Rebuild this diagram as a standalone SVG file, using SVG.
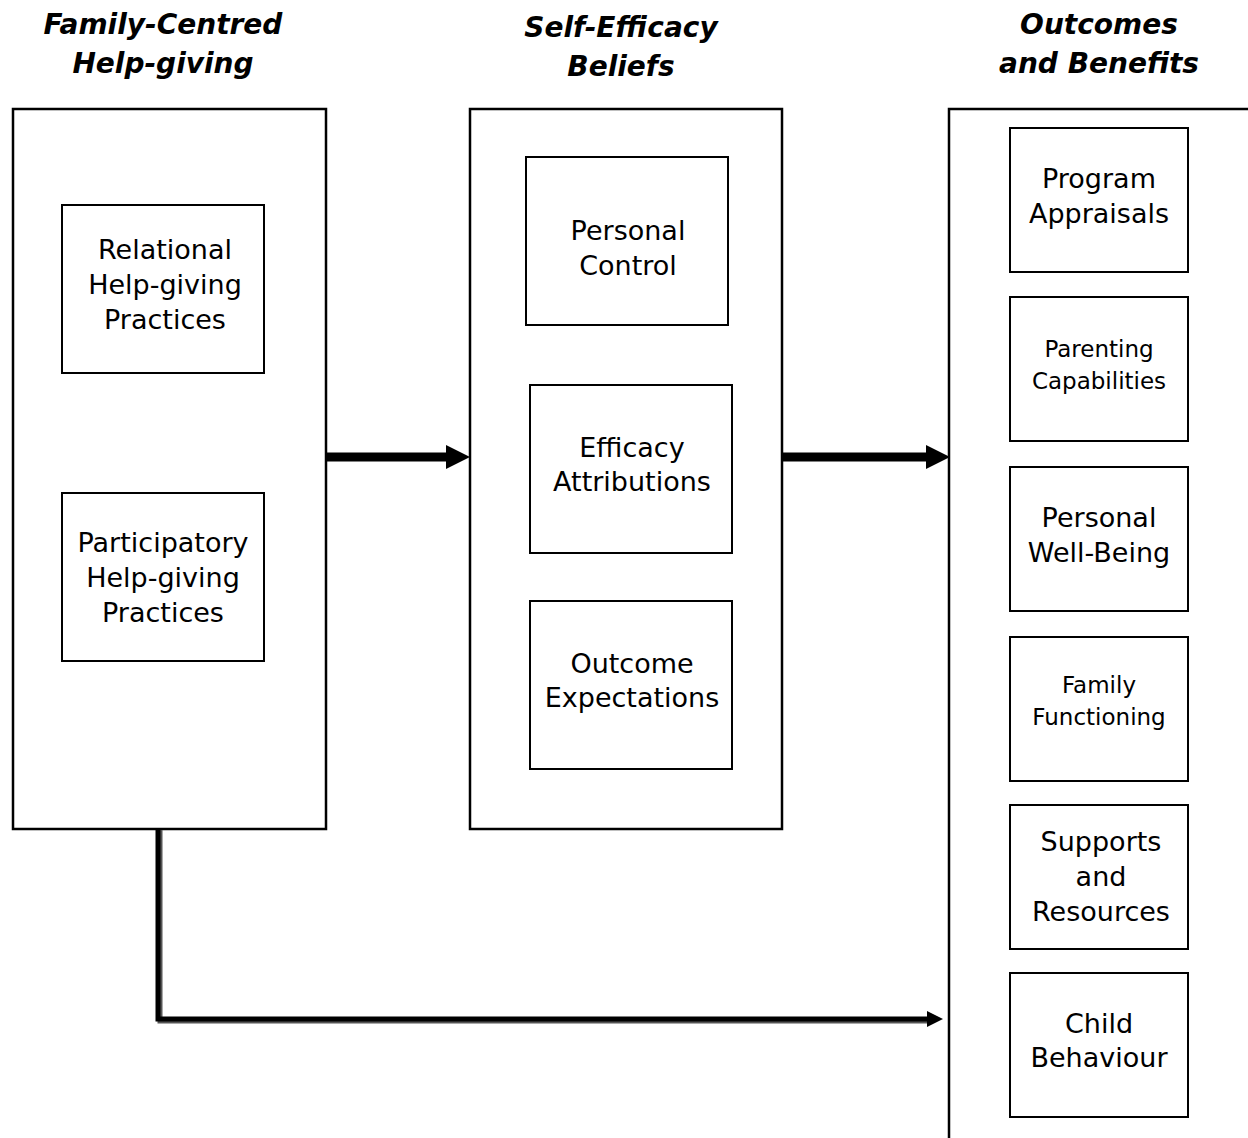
<svg xmlns="http://www.w3.org/2000/svg" width="1248" height="1138" viewBox="0 0 1248 1138">
<style>
.outer{fill:none;stroke:#000;stroke-width:2.5}
.box{fill:#fff;stroke:#000;stroke-width:2}
.t{font-family:"DejaVu Sans","Liberation Sans",sans-serif;font-size:27px;text-anchor:middle;fill:#000}
.s{font-size:23px}
.h{font-family:"DejaVu Sans","Liberation Sans",sans-serif;font-size:28px;font-weight:bold;font-style:italic;text-anchor:middle;fill:#000}
</style>
<rect width="1248" height="1138" fill="#fff"/>
<g id="titles">
<text class="h" x="163" y="34">Family-Centred</text>
<text class="h" x="163" y="73">Help-giving</text>
<text class="h" x="621" y="37">Self-Efficacy</text>
<text class="h" x="621" y="76">Beliefs</text>
<text class="h" x="1099" y="34">Outcomes</text>
<text class="h" x="1099" y="73">and Benefits</text>
</g>
<g id="group-left"><rect class="outer" x="13" y="109" width="313" height="720"/></g>
<g id="group-middle"><rect class="outer" x="470" y="109" width="312" height="720"/></g>
<g id="group-right"><path class="outer" d="M1260,109 H949 V1140"/></g>
<g id="relational"><rect class="box" x="62" y="205" width="202" height="168"/>
<text class="t" x="165" y="259">Relational</text><text class="t" x="165" y="294">Help-giving</text><text class="t" x="165" y="329">Practices</text></g>
<g id="participatory"><rect class="box" x="62" y="493" width="202" height="168"/>
<text class="t" x="163" y="552">Participatory</text><text class="t" x="163" y="587">Help-giving</text><text class="t" x="163" y="622">Practices</text></g>
<g id="personal-control"><rect class="box" x="526" y="157" width="202" height="168"/>
<text class="t" x="628" y="240">Personal</text><text class="t" x="628" y="275">Control</text></g>
<g id="efficacy"><rect class="box" x="530" y="385" width="202" height="168"/>
<text class="t" x="632" y="457">Efficacy</text><text class="t" x="632" y="491">Attributions</text></g>
<g id="outcome"><rect class="box" x="530" y="601" width="202" height="168"/>
<text class="t" x="632" y="673">Outcome</text><text class="t" x="632" y="707">Expectations</text></g>
<g id="program"><rect class="box" x="1010" y="128" width="178" height="144"/>
<text class="t" x="1099" y="188">Program</text><text class="t" x="1099" y="223">Appraisals</text></g>
<g id="parenting"><rect class="box" x="1010" y="297" width="178" height="144"/>
<text class="t s" x="1099" y="357">Parenting</text><text class="t s" x="1099" y="389">Capabilities</text></g>
<g id="wellbeing"><rect class="box" x="1010" y="467" width="178" height="144"/>
<text class="t" x="1099" y="527">Personal</text><text class="t" x="1099" y="562">Well-Being</text></g>
<g id="family"><rect class="box" x="1010" y="637" width="178" height="144"/>
<text class="t s" x="1099" y="693">Family</text><text class="t s" x="1099" y="725">Functioning</text></g>
<g id="supports"><rect class="box" x="1010" y="805" width="178" height="144"/>
<text class="t" x="1101" y="851">Supports</text><text class="t" x="1101" y="886">and</text><text class="t" x="1101" y="921">Resources</text></g>
<g id="child"><rect class="box" x="1010" y="973" width="178" height="144"/>
<text class="t" x="1099" y="1033">Child</text><text class="t" x="1099" y="1067">Behaviour</text></g>
<g id="connectors">
<line x1="327" y1="457" x2="448" y2="457" stroke="#000" stroke-width="9"/>
<polygon points="446,445 470,457 446,469" fill="#000"/>
<line x1="783" y1="457" x2="928" y2="457" stroke="#000" stroke-width="9"/>
<polygon points="926,445 950,457 926,469" fill="#000"/>
<path d="M160,830 V1021 H930" fill="none" stroke="#555" stroke-width="5"/>
<path d="M158,830 V1019 H930" fill="none" stroke="#000" stroke-width="5"/>
<polygon points="927,1011 943,1019 927,1027" fill="#000"/>
</g>
</svg>
